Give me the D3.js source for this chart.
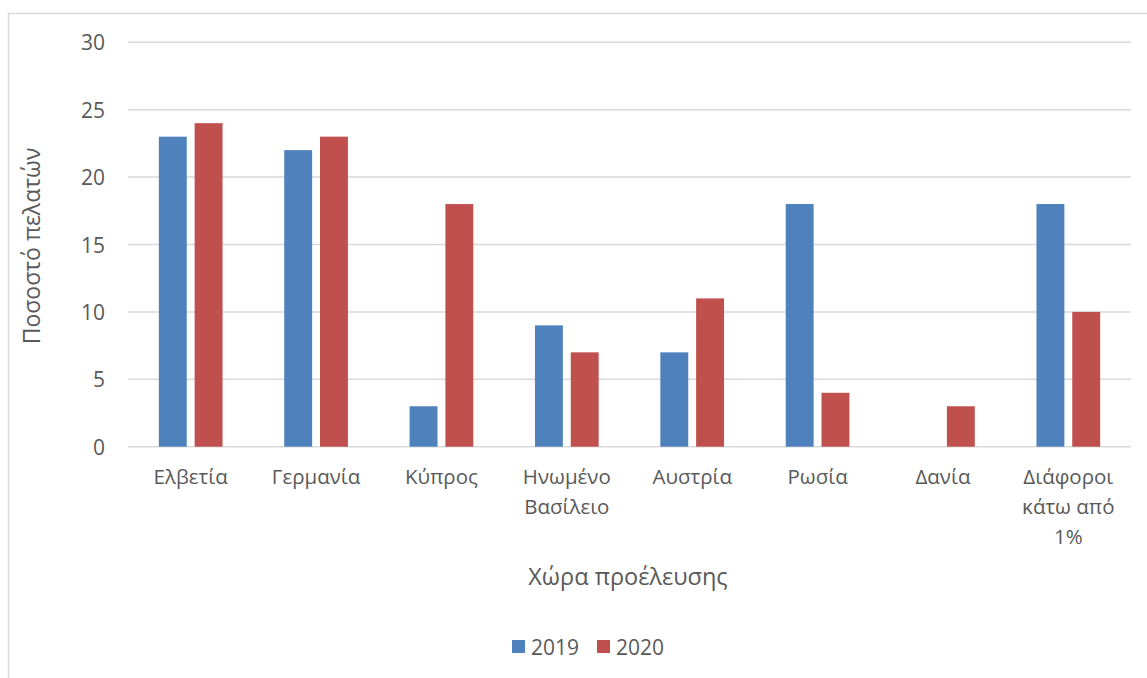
<!DOCTYPE html>
<html>
<head>
<meta charset="utf-8">
<script src="https://cdn.jsdelivr.net/npm/d3@7"></script>
<style>
  html, body { margin: 0; padding: 0; background: #fff; }
  svg text { font-family: "Open Sans", "Noto Sans", sans-serif; fill: #595959; }
</style>
</head>
<body>
<svg id="chart" width="1147" height="678"></svg>
<script>
// Countries of origin (multi-line labels split on \n)
const categories = [
  "Ελβετία", "Γερμανία", "Κύπρος", "Ηνωμένο\nΒασίλειο",
  "Αυστρία", "Ρωσία", "Δανία", "Διάφοροι\nκάτω από\n1%"
];
const seriesNames = ["2019", "2020"];
const values2019 = [23, 22, 3, 9, 7, 18, 0, 18];
const values2020 = [24, 23, 18, 7, 11, 4, 3, 10];
const yTicks = [0, 5, 10, 15, 20, 25, 30];
const colors = ["#4f81bd", "#c0504d"];

const svg = d3.select("#chart");

// Outer chart frame (partly outside the viewport on the right and bottom)
svg.append("rect")
  .attr("x", 8.5).attr("y", 13.5)
  .attr("width", 1150).attr("height", 700)
  .attr("fill", "none").attr("stroke", "#d9d9d9").attr("stroke-width", 1.5);

const plot = { left: 128, right: 1131, top: 42.3, bottom: 446.7 };

const x = d3.scaleBand().domain(categories).range([plot.left, plot.right]).padding(0);
const y = d3.scaleLinear().domain([0, 30]).range([plot.bottom, plot.top]);
const inner = d3.scaleBand().domain(seriesNames).range([0, 63.7]).paddingInner(0.22);

// Horizontal gridlines
svg.append("g")
  .selectAll("line").data(yTicks).join("line")
  .attr("x1", plot.left).attr("x2", plot.right)
  .attr("y1", d => y(d)).attr("y2", d => y(d))
  .attr("stroke", "#d9d9d9").attr("stroke-width", 1.5);

// Y tick labels
svg.append("g")
  .selectAll("text").data(yTicks).join("text")
  .attr("x", 105).attr("y", d => y(d))
  .attr("text-anchor", "end").attr("dominant-baseline", "central")
  .attr("font-size", 21)
  .text(d => d);

// Bars
const rows = categories.map((c, i) => ({ c, v: [values2019[i], values2020[i]] }));
const groups = svg.append("g").selectAll("g").data(rows).join("g")
  .attr("transform", d => `translate(${x(d.c) + x.bandwidth() / 2 - 31.85},0)`);
groups.selectAll("rect")
  .data(d => seriesNames.map((s, j) => ({ s, v: d.v[j], j })))
  .join("rect")
  .attr("x", d => inner(d.s))
  .attr("width", inner.bandwidth())
  .attr("y", d => y(d.v))
  .attr("height", d => y(0) - y(d.v))
  .attr("fill", d => colors[d.j]);

// Category labels
const catLabels = svg.append("g").selectAll("text").data(categories).join("text")
  .attr("text-anchor", "middle")
  .attr("font-size", 20.5)
  .attr("x", d => x(d) + x.bandwidth() / 2)
  .attr("y", 484);
catLabels.each(function(d) {
  const t = d3.select(this);
  d.split("\n").forEach((line, i) => {
    t.append("tspan")
      .attr("x", x(d) + x.bandwidth() / 2)
      .attr("dy", i === 0 ? 0 : 30)
      .text(line);
  });
});

// Axis titles
svg.append("text")
  .attr("x", 628).attr("y", 585)
  .attr("text-anchor", "middle").attr("font-size", 23.5)
  .text("Χώρα προέλευσης");
svg.append("text")
  .attr("transform", "translate(40,246) rotate(-90)")
  .attr("text-anchor", "middle").attr("font-size", 23)
  .text("Ποσοστό πελατών");

// Legend
const legend = svg.append("g").selectAll("g").data(seriesNames).join("g")
  .attr("transform", (d, i) => `translate(${512 + i * 85},640)`);
legend.append("rect").attr("width", 13).attr("height", 13)
  .attr("fill", (d, i) => colors[i]);
legend.append("text").attr("x", 19).attr("y", 6.5)
  .attr("dominant-baseline", "central").attr("font-size", 21)
  .text(d => d);
</script>
</body>
</html>
